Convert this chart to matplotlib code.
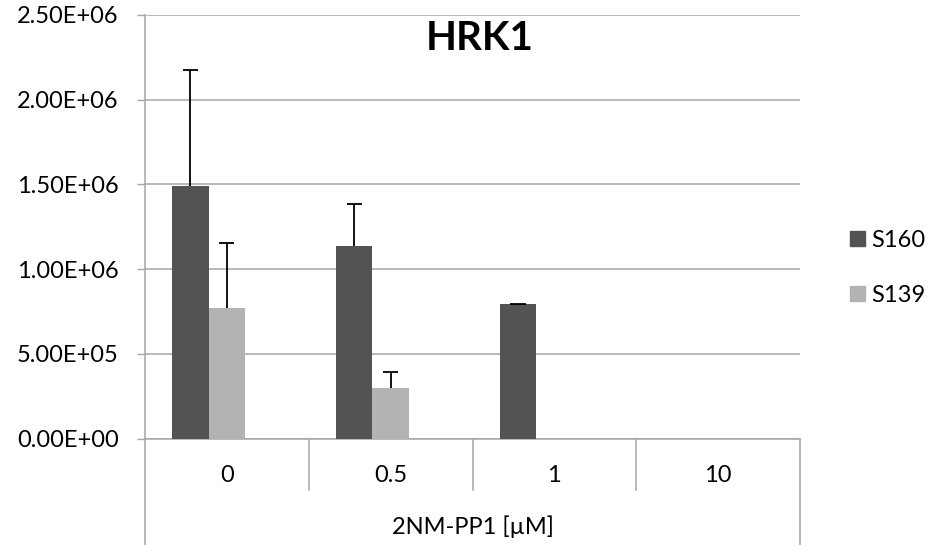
import numpy as np
import matplotlib
matplotlib.use("Agg")
import matplotlib.pyplot as plt
from matplotlib.patches import Patch
import matplotlib.transforms as mtransforms

# values (nan = no bar)
doses = ["0", "0.5", "1", "10"]
s160 = [1.488e6, 1.137e6, 7.93e5, np.nan]
s160_err = [6.83e5, 2.49e5, 3.0e3, np.nan]
s139 = [7.68e5, 3.0e5, np.nan, np.nan]
s139_err = [3.83e5, 9.5e4, np.nan, np.nan]
yticks = [0, 5e5, 1e6, 1.5e6, 2e6, 2.5e6]

plt.rcParams['font.family'] = ['Lato', 'DejaVu Sans']
fs = 17
grid_c = '#a6a6a6'

fig = plt.figure(figsize=(9.44, 5.45), dpi=100)
W, H = 944, 545
ax = fig.add_axes([145 / W, 1 - 438.7 / H, (800 - 145) / W, (438.7 - 14.7) / H])

x = np.arange(len(doses))
w = 0.2223
ax.bar(x - w, s160, w, color='#535353', zorder=3, label='S160')
ax.bar(x, s139, w, color='#b3b3b3', zorder=3, label='S139')


def plus_err(xs, ys, errs):
    # upper error bars only, as Excel draws "plus" direction
    ys = np.array(ys)
    tops = ys + np.array(errs)
    ok = ~np.isnan(tops)
    ax.vlines(xs[ok], ys[ok], tops[ok], color='black', linewidth=1.3, zorder=4)
    ax.hlines(tops[ok], xs[ok] - 0.046, xs[ok] + 0.046, color='black',
              linewidth=1.3, zorder=4)


plus_err(x - w, s160, s160_err)
plus_err(x, s139, s139_err)

ax.set_xlim(-0.5, 3.5)
ax.set_ylim(0, 2.5e6)
ax.set_yticks(yticks)
ax.set_yticklabels([f"{v:.2E}" for v in yticks], fontsize=fs)
ax.tick_params(axis='y', length=6, width=1, color=grid_c, pad=13)
ax.set_xticks([])
ax.yaxis.grid(True, color=grid_c, linewidth=1.1, zorder=0)
ax.set_axisbelow(True)
for s in ['top', 'right']:
    ax.spines[s].set_visible(False)
ax.spines['left'].set_color(grid_c)
ax.spines['bottom'].set_color(grid_c)
ax.spines['left'].set_linewidth(1.1)
ax.spines['bottom'].set_linewidth(1.1)

# multi-level category axis below the plot
trans = mtransforms.blended_transform_factory(ax.transData, ax.transAxes)
sep_bot = -(490 - 438.7) / 424
out_bot = -(545 - 438.7) / 424
for k in range(len(doses) - 1):
    ax.plot([k + 0.5, k + 0.5], [0, sep_bot], transform=trans, color=grid_c,
            linewidth=1.1, clip_on=False)
for xa in [0, 1]:
    ax.plot([xa, xa], [0, out_bot], transform=ax.transAxes, color=grid_c,
            linewidth=1.1, clip_on=False)
for k, d in enumerate(doses):
    ax.text(k, -(476 - 438.7) / 424, d, transform=trans, ha='center', va='center',
            fontsize=fs)
ax.text(0.5, -(527 - 438.7) / 424, "2NM-PP1 [µM]", transform=ax.transAxes,
        ha='center', va='center', fontsize=fs)

fig.text(480 / W, 1 - 38 / H, "HRK1", ha='center', va='center', fontsize=29,
         fontweight='bold')

handles = [Patch(color='#535353', label='S160'), Patch(color='#b3b3b3', label='S139')]
fig.legend(handles=handles, loc='upper left', bbox_to_anchor=(850 / W, 1 - 229.7 / H),
           bbox_transform=fig.transFigure, frameon=False, fontsize=fs,
           handlelength=0.64, handleheight=0.64, handletextpad=0.25,
           labelspacing=1.45, borderpad=0, borderaxespad=0)

fig.savefig("out.png", dpi=100)
